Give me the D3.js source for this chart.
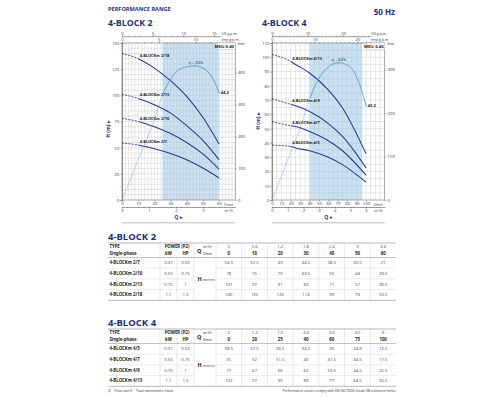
<!DOCTYPE html>
<html>
<head>
<meta charset="utf-8">
<script src="https://cdn.jsdelivr.net/npm/d3@7"></script>
<style>
  body { margin: 0; background: #fff; }
  svg { display: block; font-family: "Open Sans", sans-serif; }
</style>
</head>
<body>
<script>
"use strict";

// ---------- data ----------
// 4-BLOCK 2
const b2Qlmin = [0, 10, 20, 30, 40, 50, 60];
const b2Qm3 = ["0", "0.6", "1.2", "1.8", "2.4", "3", "3.6"];
const b2Types = ["4-BLOCKm 2/7", "4-BLOCKm 2/10", "4-BLOCKm 2/13", "4-BLOCKm 2/18"];
const b2Kw = ["0.37", "0.55", "0.75", "1.1"];
const b2Hp = ["0.50", "0.75", "1", "1.5"];
const b2Head = [
  [54.5, 52.5, 49, 44.5, 38.5, 30.5, 21],
  [78, 75, 70, 63.5, 55, 44, 29.5],
  [101, 97, 91, 83, 71, 57, 38.5],
  [140, 135, 126, 114, 99, 79, 53.5]
];
const b2EffQ = [0, 10, 20, 25, 30, 35, 40, 45, 50, 55, 60];
const b2Eff = [0, 15, 30, 39, 45, 48.5, 49.6, 50, 49.2, 46.5, 40];
const b2Range = [25, 60];
const b2EffLabels = ["η = 50%", "44.2"];

// 4-BLOCK 4
const b4Qlmin = [0, 20, 25, 40, 60, 75, 100];
const b4Qm3 = ["0", "1.2", "1.5", "2.4", "3.6", "4.5", "6"];
const b4Types = ["4-BLOCKm 4/5", "4-BLOCKm 4/7", "4-BLOCKm 4/9", "4-BLOCKm 4/13"];
const b4Kw = ["0.37", "0.55", "0.75", "1.1"];
const b4Hp = ["0.50", "0.75", "1", "1.5"];
const b4Head = [
  [38.5, 37.5, 36.5, 34.5, 30, 24.8, 12.5],
  [55, 52, 51.5, 48, 41.5, 34.5, 17.5],
  [71, 67, 66, 62, 53.5, 44.5, 22.5],
  [102, 97, 95, 89, 77, 64.5, 32.5]
];
const b4EffQ = [0, 10, 20, 30, 40, 50, 60, 70, 80, 90, 100];
const b4Eff = [0, 11, 22.5, 33.5, 47, 56.8, 62, 64, 63, 57.5, 44];
const b4Range = [40, 96];
const b4EffLabels = ["η = 64%", "43.2"];

// tick labels
const b2HTicks = [0, 25, 50, 75, 100, 125, 150];
const b2FeetTicks = [0, 100, 200, 300, 400];
const b2LminTicks = [0, 10, 20, 30, 40, 50, 60];
const b2M3Ticks = [0, 1, 2, 3];
const b2UsTicks = [0, 5, 10, 15];
const b2ImpTicks = [0, 5, 10];

const b4HTicks = [0, 10, 20, 30, 40, 50, 60, 70, 80, 90, 100, 110];
const b4FeetTicks = [0, 100, 200, 300];
const b4LminTicks = [0, 10, 20, 30, 40, 50, 60, 70, 80, 90, 100];
const b4M3Ticks = [0, 1, 2, 3, 4, 5, 6];
const b4UsTicks = [0, 10, 20];
const b4ImpTicks = [0, 10, 20];

// ---------- page ----------
const navy = "#1f2f7d", curveCol = "#2b3b8f", effCol = "#4aa3e0", shadeCol = "#c8e2f5";
const textCol = "#333";
const fmtInt = d3.format("d");

const svg = d3.select("body").append("svg")
    .attr("width", 500)
    .attr("height", 400);

svg.append("text")
    .attr("x", 108).attr("y", 11)
    .attr("font-size", 5.6).attr("font-weight", 700).attr("fill", navy)
    .text("PERFORMANCE RANGE");

svg.append("text")
    .attr("x", 395).attr("y", 15).attr("text-anchor", "end")
    .attr("font-size", 8).attr("font-weight", 700).attr("fill", navy)
    .text("50 Hz");

function styleAxis(sel, fs) {
  sel.selectAll("text").attr("font-size", fs).attr("fill", textCol).attr("font-family", "Open Sans, sans-serif");
  sel.selectAll("line").attr("stroke", "#444").attr("stroke-width", 0.4);
  sel.select(".domain").attr("stroke", "#444").attr("stroke-width", 0.5);
}

function drawChart(c) {
  const g = svg.append("g");
  const x = d3.scaleLinear().domain([0, c.qMax]).range([c.left, c.right]);
  const y = d3.scaleLinear().domain([0, c.hMax]).range([c.bottom, c.top]);
  const yEff = d3.scaleLinear().domain([0, c.effTop]).range([c.bottom, c.top]);
  const yFt = d3.scaleLinear().domain([0, c.hMax / 0.3048]).range([c.bottom, c.top]);
  const xM3 = d3.scaleLinear().domain([0, c.qMax / 16.667]).range([c.left, c.right]);
  const xUs = d3.scaleLinear().domain([0, c.qMax / 3.785]).range([c.left, c.right]);
  const xImp = d3.scaleLinear().domain([0, c.qMax / 4.546]).range([c.left, c.right]);

  g.append("text")
      .attr("x", c.titleX).attr("y", 26.3)
      .attr("font-size", 8.8).attr("font-weight", 700).attr("fill", navy)
      .text(c.title);

  // recommended range
  g.append("rect")
      .attr("x", x(c.range[0])).attr("y", c.top)
      .attr("width", x(c.range[1]) - x(c.range[0]))
      .attr("height", c.bottom - c.top)
      .attr("fill", shadeCol);

  // grid
  g.append("g").selectAll("line")
    .data(d3.range(c.gridQ, c.qMax, c.gridQ))
    .join("line")
      .attr("x1", d => x(d)).attr("x2", d => x(d))
      .attr("y1", c.top).attr("y2", c.bottom)
      .attr("stroke", "#bdbdbd").attr("stroke-width", 0.35);
  g.append("g").selectAll("line")
    .data(d3.range(c.gridH, c.hMax, c.gridH))
    .join("line")
      .attr("x1", c.left).attr("x2", c.right)
      .attr("y1", d => y(d)).attr("y2", d => y(d))
      .attr("stroke", "#bdbdbd").attr("stroke-width", 0.35);

  g.append("rect")
      .attr("x", c.left).attr("y", c.top)
      .attr("width", c.right - c.left).attr("height", c.bottom - c.top)
      .attr("fill", "none").attr("stroke", "#555").attr("stroke-width", 0.5);

  // MEI box
  g.append("rect")
      .attr("x", c.right - 18).attr("y", c.top)
      .attr("width", 18).attr("height", 6.5)
      .attr("fill", "#fff").attr("stroke", "#999").attr("stroke-width", 0.3);
  g.append("text")
      .attr("x", c.right - 1.2).attr("y", c.top + 4.8).attr("text-anchor", "end")
      .attr("font-size", 4.2).attr("font-weight", 700).attr("fill", "#222")
      .text("MEI≥ 0.40");

  // axes
  const ax = d3.axisLeft(y).tickValues(c.hTicks).tickSize(1.5).tickPadding(1);
  g.append("g").attr("transform", `translate(${c.left},0)`).call(ax).call(s => styleAxis(s, 4.3));

  const axFt = d3.axisRight(yFt).tickValues(c.feetTicks).tickSize(1.5).tickPadding(1.2);
  g.append("g").attr("transform", `translate(${c.right},0)`).call(axFt).call(s => styleAxis(s, 4.3))
      .call(s => s.select(".domain").remove());
  g.append("text")
      .attr("x", c.right + 2.5).attr("y", c.top + 1.5)
      .attr("font-size", 3.8).attr("fill", textCol).text("feet");

  const axL = d3.axisBottom(x).tickValues(c.lminTicks).tickSize(1.5).tickPadding(0.8);
  g.append("g").attr("transform", `translate(0,${c.bottom})`).call(axL).call(s => styleAxis(s, 4.3))
      .call(s => s.select(".domain").remove());
  g.append("text")
      .attr("x", c.right - 6.5).attr("y", c.bottom + 5.5).attr("text-anchor", "middle")
      .attr("font-size", 3.8).attr("fill", textCol).text("l/min");

  const m3Y = c.bottom + 7;
  const m3Minor = d3.axisBottom(xM3).tickValues(d3.range(0, xM3.domain()[1] - 0.3, 0.2)).tickSize(1).tickFormat("");
  g.append("g").attr("transform", `translate(0,${m3Y})`).call(m3Minor).call(s => styleAxis(s, 4));
  const axM3 = d3.axisBottom(xM3).tickValues(c.m3Ticks).tickSize(1.5).tickPadding(0.6).tickFormat(fmtInt);
  g.append("g").attr("transform", `translate(0,${m3Y})`).call(axM3).call(s => styleAxis(s, 4.2))
      .call(s => s.select(".domain").remove());
  g.append("text")
      .attr("x", c.right - 6.5).attr("y", m3Y + 5).attr("text-anchor", "middle")
      .attr("font-size", 3.8).attr("fill", textCol).text("m³/h");

  g.append("text")
      .attr("x", (c.left + c.right) / 2).attr("y", c.bottom + 19.3)
      .attr("text-anchor", "middle")
      .attr("font-size", 5).attr("font-weight", 700).attr("fill", navy)
      .text("Q ▸");
  g.append("line")
      .attr("x1", c.left).attr("x2", c.right)
      .attr("y1", c.bottom + 22.8).attr("y2", c.bottom + 22.8)
      .attr("stroke", "#aaa").attr("stroke-width", 0.8);

  // top axes: US and Imp gallons
  const usY = c.top - 6.3;
  const usMinor = d3.axisTop(xUs).tickValues(d3.range(0, xUs.domain()[1] - 3, 1)).tickSize(1).tickFormat("");
  g.append("g").attr("transform", `translate(0,${usY})`).call(usMinor).call(s => styleAxis(s, 4))
      .call(s => s.select(".domain").remove());
  const axUs = d3.axisTop(xUs).tickValues(c.usTicks).tickSize(1.6).tickPadding(0.6).tickFormat(fmtInt);
  g.append("g").attr("transform", `translate(0,${usY})`).call(axUs).call(s => styleAxis(s, 4.2))
      .call(s => s.select(".domain").remove());
  g.append("line")
      .attr("x1", c.left).attr("x2", c.right - 14)
      .attr("y1", usY).attr("y2", usY)
      .attr("stroke", "#444").attr("stroke-width", 0.5);
  g.append("text")
      .attr("x", c.right - 13.5).attr("y", usY - 1.3)
      .attr("font-size", 3.6).attr("fill", textCol).text("US g.p.m.");

  const impMinor = d3.axisTop(xImp).tickValues(d3.range(0, xImp.domain()[1] - 2.5, 1)).tickSize(1).tickFormat("");
  g.append("g").attr("transform", `translate(0,${c.top})`).call(impMinor).call(s => styleAxis(s, 4))
      .call(s => s.select(".domain").remove());
  const axImp = d3.axisTop(xImp).tickValues(c.impTicks).tickSize(1.6).tickPadding(0.5).tickFormat(fmtInt);
  g.append("g").attr("transform", `translate(0,${c.top})`).call(axImp).call(s => styleAxis(s, 4.2))
      .call(s => s.select(".domain").remove());
  g.append("text")
      .attr("x", c.right - 13.5).attr("y", c.top - 2.3)
      .attr("font-size", 3.6).attr("fill", textCol).text("Imp g.p.m.");

  g.append("text")
      .attr("transform", `translate(${c.left - 12},${c.hLabelY}) rotate(-90)`)
      .attr("text-anchor", "middle")
      .attr("font-size", 5).attr("font-weight", 700).attr("fill", navy)
      .text("H (m) ▸");

  // clip paths: dashed part before the first table point, solid after
  const id = c.id;
  const defs = g.append("defs");
  defs.append("clipPath").attr("id", id + "-a").append("rect")
      .attr("x", c.left - 5).attr("y", 0).attr("width", x(c.q[1]) - c.left + 5).attr("height", 400);
  defs.append("clipPath").attr("id", id + "-b").append("rect")
      .attr("x", x(c.q[1])).attr("y", 0).attr("width", 400).attr("height", 400);
  defs.append("clipPath").attr("id", id + "-c").append("rect")
      .attr("x", c.left - 5).attr("y", 0).attr("width", x(c.range[0]) - c.left + 5).attr("height", 400);
  defs.append("clipPath").attr("id", id + "-d").append("rect")
      .attr("x", x(c.range[0])).attr("y", 0).attr("width", 400).attr("height", 400);

  const headLine = d3.line()
      .x((d, i) => x(c.q[i]))
      .y(d => y(d))
      .curve(d3.curveMonotoneX);

  const curves = g.append("g").selectAll("g").data(c.head).join("g");
  curves.append("path")
      .attr("d", headLine)
      .attr("clip-path", `url(#${id}-a)`)
      .attr("fill", "none").attr("stroke", curveCol).attr("stroke-width", 0.9)
      .attr("stroke-dasharray", "2,1.3");
  curves.append("path")
      .attr("d", headLine)
      .attr("clip-path", `url(#${id}-b)`)
      .attr("fill", "none").attr("stroke", curveCol).attr("stroke-width", 1.1);
  curves.append("text")
      .attr("x", x(c.q[1]) + 1.5)
      .attr("y", d => y(d[1]) - 2)
      .attr("font-size", 3.9).attr("font-weight", 700).attr("fill", "#222")
      .text((d, i) => c.types[i]);

  // efficiency
  const effLine = d3.line()
      .x((d, i) => x(c.effQ[i]))
      .y(d => yEff(d))
      .curve(d3.curveMonotoneX);
  g.append("path").datum(c.eff)
      .attr("d", effLine)
      .attr("clip-path", `url(#${id}-c)`)
      .attr("fill", "none").attr("stroke", effCol).attr("stroke-width", 0.8)
      .attr("stroke-dasharray", "0.8,0.8");
  g.append("path").datum(c.eff)
      .attr("d", effLine)
      .attr("clip-path", `url(#${id}-d)`)
      .attr("fill", "none").attr("stroke", effCol).attr("stroke-width", 0.9);

  const peak = d3.maxIndex(c.eff);
  const last = c.eff.length - 1;
  g.append("line")
      .attr("x1", x(c.effQ[peak])).attr("x2", x(c.effQ[peak]))
      .attr("y1", yEff(c.eff[peak]) - 1.2).attr("y2", yEff(c.eff[peak]) + 1.2)
      .attr("stroke", effCol).attr("stroke-width", 0.6);
  g.append("text")
      .attr("x", x(c.effQ[peak]) + 1).attr("y", yEff(c.eff[peak]) - 2)
      .attr("text-anchor", "middle")
      .attr("font-size", 4).attr("fill", "#222")
      .text(c.effLabels[0]);
  g.append("circle")
      .attr("cx", x(c.effQ[last])).attr("cy", yEff(c.eff[last])).attr("r", 0.7)
      .attr("fill", effCol);
  g.append("text")
      .attr("x", x(c.effQ[last]) + 1.8).attr("y", yEff(c.eff[last]) + 1.8)
      .attr("font-size", 4).attr("font-weight", 700).attr("fill", "#222")
      .text(c.effLabels[1]);
}

drawChart({
  id: "b2", title: "4-BLOCK 2", titleX: 108,
  left: 122, right: 235.2, top: 43, bottom: 200,
  qMax: 70, hMax: 150, effTop: 58.5, gridQ: 2, gridH: 5, hLabelY: 129,
  q: b2Qlmin, head: b2Head, types: b2Types,
  effQ: b2EffQ, eff: b2Eff, effLabels: b2EffLabels, range: b2Range,
  hTicks: b2HTicks, feetTicks: b2FeetTicks, lminTicks: b2LminTicks,
  m3Ticks: b2M3Ticks, usTicks: b2UsTicks, impTicks: b2ImpTicks
});

drawChart({
  id: "b4", title: "4-BLOCK 4", titleX: 262,
  left: 272, right: 384.8, top: 43, bottom: 200,
  qMax: 120, hMax: 110, effTop: 73.2, gridQ: 5, gridH: 5, hLabelY: 121,
  q: b4Qlmin, head: b4Head, types: b4Types,
  effQ: b4EffQ, eff: b4Eff, effLabels: b4EffLabels, range: b4Range,
  hTicks: b4HTicks, feetTicks: b4FeetTicks, lminTicks: b4LminTicks,
  m3Ticks: b4M3Ticks, usTicks: b4UsTicks, impTicks: b4ImpTicks
});

// ---------- tables ----------
function drawTable(top, title, types, kw, hp, qm3, qlmin, head) {
  const g = svg.append("g");
  const L = 108, R = 396;
  const col = d3.scaleBand().domain(d3.range(qm3.length)).range([216, R]);
  const hdrBottom = top + 14.5;
  const row = d3.scaleBand().domain(d3.range(types.length)).range([hdrBottom, top + 57.3]);
  const fs = 4.3;

  g.append("text")
      .attr("x", L).attr("y", top - 2.6)
      .attr("font-size", 9.5).attr("font-weight", 700).attr("fill", navy)
      .text(title);

  // vertical separators
  const vx = [160, 177, 194, 216].concat(d3.range(1, qm3.length).map(i => col(i)));
  g.append("g").selectAll("line").data(vx).join("line")
      .attr("x1", d => d).attr("x2", d => d)
      .attr("y1", top).attr("y2", top + 57.3)
      .attr("stroke", "#c8c8c8").attr("stroke-width", 0.4);

  // horizontal rules
  g.append("line").attr("x1", L).attr("x2", R).attr("y1", top).attr("y2", top)
      .attr("stroke", "#888").attr("stroke-width", 0.6);
  g.append("line").attr("x1", L).attr("x2", R).attr("y1", hdrBottom).attr("y2", hdrBottom)
      .attr("stroke", "#888").attr("stroke-width", 0.5);
  g.append("line").attr("x1", L).attr("x2", R).attr("y1", top + 57.3).attr("y2", top + 57.3)
      .attr("stroke", "#888").attr("stroke-width", 0.6);
  g.append("g").selectAll("line").data(d3.range(1, types.length)).join("line")
      .attr("x1", L).attr("x2", 194)
      .attr("y1", d => row(d)).attr("y2", d => row(d))
      .attr("stroke", "#ccc").attr("stroke-width", 0.4);
  g.append("g").selectAll("line").data(d3.range(1, types.length)).join("line")
      .attr("x1", 216).attr("x2", R)
      .attr("y1", d => row(d)).attr("y2", d => row(d))
      .attr("stroke", "#ccc").attr("stroke-width", 0.4);

  const h1 = top + 5.1, h2 = top + 12.4;
  const t = (xx, yy, txt, opts = {}) => g.append("text")
      .attr("x", xx).attr("y", yy)
      .attr("text-anchor", opts.anchor || "start")
      .attr("font-size", opts.fs || fs)
      .attr("font-weight", opts.bold ? 700 : 400)
      .attr("fill", opts.fill || "#222")
      .text(txt);

  t(L + 1.5, h1, "TYPE", { bold: true });
  t(L + 1.5, h2, "Single-phase", { bold: true });
  t(177, h1, "POWER (P2)", { bold: true, anchor: "middle" });
  t(168.5, h2, "kW", { bold: true, anchor: "middle" });
  t(185.5, h2, "HP", { bold: true, anchor: "middle" });
  t(197, top + 9.5, "Q", { bold: true, fs: 5.5 });
  t(203, h1, "m³/h", { fs: 3.8 });
  t(203, h2, "l/min", { fs: 3.8 });

  g.append("g").selectAll("text").data(qm3).join("text")
      .attr("x", (d, i) => col(i) + col.bandwidth() / 2).attr("y", h1)
      .attr("text-anchor", "middle").attr("font-size", fs).attr("fill", "#444")
      .text(d => d);
  g.append("g").selectAll("text").data(qlmin).join("text")
      .attr("x", (d, i) => col(i) + col.bandwidth() / 2).attr("y", h2)
      .attr("text-anchor", "middle").attr("font-size", fs).attr("font-weight", 700).attr("fill", "#222")
      .text(d => d);

  const midY = (hdrBottom + top + 57.3) / 2 + 1.6;
  t(197.5, midY, "H", { bold: true, fs: 5.5 });
  t(202.5, midY, "metres", { fs: 3.8, fill: "#444" });

  const rows = g.append("g").selectAll("g").data(types).join("g")
      .attr("transform", (d, i) => `translate(0,${row(i) + row.bandwidth() / 2 + 1.5})`);
  rows.append("text").attr("x", L + 1.5).attr("font-size", fs).attr("font-weight", 700).attr("fill", "#222")
      .text(d => d);
  rows.append("text").attr("x", 168.5).attr("text-anchor", "middle").attr("font-size", fs).attr("fill", "#444")
      .text((d, i) => kw[i]);
  rows.append("text").attr("x", 185.5).attr("text-anchor", "middle").attr("font-size", fs).attr("fill", "#444")
      .text((d, i) => hp[i]);
  rows.each(function(d, i) {
    d3.select(this).selectAll("text.v").data(head[i]).join("text")
        .attr("class", "v")
        .attr("x", (v, j) => col(j) + col.bandwidth() / 2)
        .attr("text-anchor", "middle").attr("font-size", fs).attr("fill", "#444")
        .text(v => v);
  });
}

drawTable(243, "4-BLOCK 2", b2Types, b2Kw, b2Hp, b2Qm3, b2Qlmin, b2Head);
drawTable(329, "4-BLOCK 4", b4Types, b4Kw, b4Hp, b4Qm3, b4Qlmin, b4Head);

svg.append("text")
    .attr("x", 108).attr("y", 392)
    .attr("font-size", 3.4).attr("fill", "#333")
    .text("Q = Flow rate   H = Total manometric head");
svg.append("text")
    .attr("x", 396).attr("y", 392).attr("text-anchor", "end")
    .attr("font-size", 3.4).attr("fill", "#333")
    .text("Performance curves comply with EN ISO 9906 Grade 3B tolerance limits.");
</script>
</body>
</html>
